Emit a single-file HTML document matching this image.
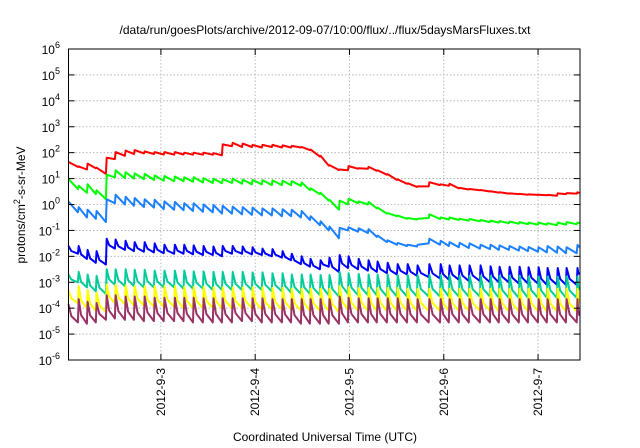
<!DOCTYPE html>
<html><head><meta charset="utf-8"><style>
html,body{margin:0;padding:0;background:#fff;}
svg{display:block;font-family:"Liberation Sans",sans-serif;}
</style></head><body>
<svg id="chart" width="640" height="448" viewBox="0 0 640 448" xmlns="http://www.w3.org/2000/svg">
<rect x="0" y="0" width="640" height="448" fill="#fff"/>
<text x="325" y="34" font-size="12" text-anchor="middle" fill="#000">/data/run/goesPlots/archive/2012-09-07/10:00/flux/../flux/5daysMarsFluxes.txt</text>
<g id="grid"></g>
<g id="series"></g>
<rect x="68.5" y="49" width="511.5" height="311" fill="none" stroke="#000" stroke-width="1"/>
<g id="axes"></g>
<text transform="translate(25,205) rotate(-90)" font-size="12" text-anchor="middle">protons/cm<tspan dy="-5" font-size="9">2</tspan><tspan dy="5">-s-sr-MeV</tspan></text>
<text x="325" y="441" font-size="12" text-anchor="middle">Coordinated Universal Time (UTC)</text>
</svg>
<script>
const xTickDays=[3,4,5,6,7];
const xTickLabels=["2012-9-3","2012-9-4","2012-9-5","2012-9-6","2012-9-7"];
const yTickExps=[-6,-5,-4,-3,-2,-1,0,1,2,3,4,5,6];
const startDay=2.02, endDay=7.44;
const toothDays=[2.12,2.215,2.31,2.417,2.512,2.618,2.714,2.82,2.926,3.03,3.14,3.24,3.34,3.445,3.55,3.647,3.753,3.86,3.965,4.07,4.176,4.283,4.38,4.485,4.58,4.686,4.78,4.888,4.983,5.09,5.195,5.29,5.397,5.503,5.61,5.715,5.84,5.96,6.054,6.16,6.266,6.383,6.489,6.584,6.69,6.796,6.892,6.998,7.093,7.2,7.295,7.41];
// values as log10(flux)
const redStart=1.64, redEnd=0.44;
const redTrough=[1.45,1.35,1.40,1.18,1.75,1.88,1.95,1.97,1.95,1.93,1.92,1.93,1.92,1.92,1.92,1.90,2.25,2.22,2.22,2.2,2.22,2.2,2.2,2.2,2.1,1.85,1.5,1.33,1.32,1.38,1.38,1.3,1.15,0.95,0.8,0.68,0.7,0.75,0.72,0.62,0.58,0.55,0.5,0.46,0.42,0.4,0.38,0.37,0.36,0.34,0.4,0.42];
const redPeak=[1.47,1.58,1.42,1.80,2.02,2.08,2.1,2.05,2.02,2.02,2.02,2.0,2.0,2.0,1.98,2.32,2.38,2.35,2.3,2.3,2.3,2.28,2.26,2.22,2.12,1.88,1.52,1.35,1.48,1.4,1.45,1.32,1.17,0.97,0.82,0.7,0.86,0.78,0.8,0.64,0.6,0.56,0.51,0.47,0.43,0.41,0.39,0.38,0.37,0.43,0.44,0.47];
const greenStart=0.98, greenEnd=-0.72;
const greenTrough=[0.6,0.45,0.4,0.2,1.05,1.02,1.0,0.98,0.95,0.92,0.9,0.9,0.88,0.85,0.83,0.82,0.83,0.8,0.78,0.78,0.75,0.75,0.75,0.72,0.55,0.4,0.15,-0.2,0.0,0.05,0.0,-0.15,-0.35,-0.45,-0.55,-0.58,-0.52,-0.56,-0.58,-0.6,-0.62,-0.65,-0.68,-0.7,-0.72,-0.74,-0.76,-0.78,-0.78,-0.8,-0.78,-0.76];
const greenPeak=[0.72,0.78,0.55,1.15,1.32,1.25,1.2,1.18,1.12,1.1,1.08,1.05,1.05,1.02,1.0,0.98,1.0,0.96,0.95,0.94,0.93,0.92,0.9,0.85,0.62,0.45,0.18,0.15,0.22,0.12,0.1,-0.12,-0.33,-0.43,-0.52,-0.55,-0.38,-0.5,-0.5,-0.55,-0.56,-0.6,-0.62,-0.64,-0.66,-0.68,-0.7,-0.7,-0.72,-0.7,-0.68,-0.7];
const lblueStart=0.11, lblueEnd=-1.65;
const lblueTrough=[-0.3,-0.5,-0.55,-0.68,0.05,0.0,-0.05,-0.1,-0.12,-0.18,-0.2,-0.22,-0.25,-0.28,-0.3,-0.35,-0.35,-0.38,-0.4,-0.42,-0.42,-0.45,-0.45,-0.5,-0.6,-0.8,-1.0,-1.3,-1.0,-1.05,-1.1,-1.25,-1.45,-1.55,-1.6,-1.62,-1.5,-1.55,-1.6,-1.65,-1.68,-1.7,-1.72,-1.75,-1.75,-1.78,-1.8,-1.82,-1.85,-1.86,-1.88,-1.88];
const lbluePeak=[-0.1,-0.2,-0.25,0.2,0.38,0.3,0.25,0.2,0.18,0.12,0.1,0.05,0.05,0.0,-0.02,-0.05,-0.08,-0.1,-0.12,-0.15,-0.15,-0.18,-0.2,-0.25,-0.45,-0.65,-0.85,-0.9,-0.88,-0.92,-0.95,-1.2,-1.38,-1.48,-1.55,-1.55,-1.32,-1.4,-1.45,-1.48,-1.5,-1.55,-1.55,-1.58,-1.6,-1.62,-1.64,-1.65,-1.6,-1.62,-1.65,-1.56];
const dblueStart=-1.6, dblueEnd=-2.7;
const dblueTrough=[-1.9,-2.1,-2.25,-2.32,-1.7,-1.75,-1.8,-1.82,-1.85,-1.88,-1.9,-1.9,-1.92,-1.95,-1.95,-2.0,-1.9,-1.9,-1.92,-1.95,-2.0,-2.05,-2.15,-2.3,-2.4,-2.5,-2.4,-2.6,-2.45,-2.5,-2.55,-2.6,-2.65,-2.7,-2.7,-2.75,-2.8,-2.85,-2.9,-2.9,-2.95,-2.95,-3.0,-3.0,-3.0,-3.05,-3.05,-3.05,-3.1,-3.1,-3.1,-3.1];
const dbluePeak=[-1.6,-1.75,-1.8,-1.32,-1.35,-1.4,-1.45,-1.45,-1.5,-1.55,-1.55,-1.55,-1.58,-1.6,-1.62,-1.6,-1.6,-1.62,-1.65,-1.7,-1.72,-1.8,-1.9,-2.0,-2.1,-2.15,-2.05,-1.95,-2.0,-2.1,-2.15,-2.2,-2.25,-2.3,-2.3,-2.35,-2.3,-2.3,-2.35,-2.35,-2.35,-2.35,-2.38,-2.4,-2.4,-2.4,-2.42,-2.42,-2.45,-2.45,-2.45,-2.45];
const tealStart=-2.7, tealEnd=-3.3;
const tealTrough=[-3.0,-3.2,-3.35,-3.45,-3.1,-3.15,-3.15,-3.2,-3.2,-3.2,-3.2,-3.25,-3.25,-3.25,-3.3,-3.3,-3.3,-3.3,-3.3,-3.3,-3.35,-3.35,-3.4,-3.45,-3.45,-3.5,-3.5,-3.55,-3.45,-3.5,-3.5,-3.5,-3.55,-3.55,-3.55,-3.55,-3.55,-3.55,-3.55,-3.55,-3.55,-3.55,-3.55,-3.6,-3.6,-3.6,-3.6,-3.6,-3.6,-3.6,-3.6,-3.6];
const tealPeak=[-2.6,-2.7,-2.75,-2.5,-2.5,-2.5,-2.52,-2.52,-2.55,-2.55,-2.55,-2.55,-2.58,-2.58,-2.6,-2.6,-2.6,-2.6,-2.62,-2.62,-2.65,-2.65,-2.7,-2.7,-2.7,-2.72,-2.72,-2.6,-2.65,-2.68,-2.7,-2.7,-2.7,-2.72,-2.72,-2.72,-2.72,-2.72,-2.75,-2.75,-2.75,-2.75,-2.75,-2.75,-2.75,-2.75,-2.78,-2.78,-2.78,-2.78,-2.78,-2.78];
const yellowStart=-3.3, yellowEnd=-3.8;
const yellowTrough=[-3.8,-4.0,-4.1,-4.15,-3.8,-3.85,-3.9,-3.9,-3.95,-3.95,-3.95,-4.0,-4.0,-4.0,-4.0,-4.0,-4.0,-4.0,-4.0,-4.05,-4.05,-4.05,-4.05,-4.1,-4.1,-4.1,-4.1,-4.15,-4.05,-4.1,-4.1,-4.1,-4.1,-4.1,-4.1,-4.1,-4.1,-4.1,-4.1,-4.1,-4.1,-4.1,-4.1,-4.12,-4.12,-4.12,-4.12,-4.12,-4.12,-4.12,-4.12,-4.12];
const yellowPeak=[-3.15,-3.3,-3.4,-3.1,-3.1,-3.12,-3.15,-3.15,-3.15,-3.15,-3.15,-3.18,-3.18,-3.18,-3.2,-3.2,-3.2,-3.2,-3.2,-3.2,-3.22,-3.22,-3.25,-3.25,-3.25,-3.25,-3.25,-3.15,-3.2,-3.22,-3.22,-3.22,-3.22,-3.22,-3.25,-3.25,-3.25,-3.25,-3.25,-3.25,-3.25,-3.25,-3.25,-3.25,-3.25,-3.25,-3.25,-3.25,-3.25,-3.25,-3.25,-3.25];
const purpleStart=-3.85, purpleEnd=-4.3;
const purpleTrough=[-4.55,-4.6,-4.55,-4.45,-4.4,-4.45,-4.45,-4.5,-4.5,-4.5,-4.5,-4.5,-4.55,-4.55,-4.55,-4.55,-4.55,-4.5,-4.5,-4.55,-4.55,-4.55,-4.55,-4.6,-4.6,-4.6,-4.6,-4.6,-4.55,-4.55,-4.55,-4.55,-4.55,-4.55,-4.55,-4.55,-4.55,-4.55,-4.55,-4.55,-4.55,-4.55,-4.55,-4.55,-4.55,-4.55,-4.55,-4.55,-4.55,-4.55,-4.55,-4.55];
const purplePeak=[-3.65,-3.75,-3.8,-3.5,-3.5,-3.55,-3.55,-3.55,-3.6,-3.6,-3.6,-3.6,-3.6,-3.62,-3.62,-3.62,-3.62,-3.62,-3.62,-3.62,-3.65,-3.65,-3.65,-3.65,-3.65,-3.65,-3.65,-3.55,-3.6,-3.62,-3.62,-3.62,-3.62,-3.62,-3.65,-3.65,-3.65,-3.65,-3.65,-3.65,-3.65,-3.65,-3.65,-3.65,-3.65,-3.65,-3.65,-3.65,-3.65,-3.65,-3.65,-3.65];

const X0=68.5,X1=580,Y0=49,Y1=360;
const dayMin=2.02,dayMax=7.445;
function xs(d){return X0+(d-dayMin)/(dayMax-dayMin)*(X1-X0);}
function ys(e){return Y1-(e+6)/12*(Y1-Y0);}
const NS="http://www.w3.org/2000/svg";
function mk(tag,parent,attrs){const el=document.createElementNS(NS,tag);for(const k in attrs)el.setAttribute(k,attrs[k]);parent.appendChild(el);return el;}
const grid=document.getElementById('grid'),axes=document.getElementById('axes'),ser=document.getElementById('series');
yTickExps.forEach(e=>{
  const y=ys(e);
  if(e>-6&&e<6){const g=mk('line',grid,{x1:X0,x2:X1,y1:y,y2:y,stroke:'#aaa','stroke-width':0.8,'stroke-dasharray':'1.5,2'});
  
  }
  const t1=mk('line',axes,{x1:X0,x2:X0+6,y1:y,y2:y,stroke:'#000'});
  
  
  const t2=mk('line',axes,{x1:X1-6,x2:X1,y1:y,y2:y,stroke:'#000'});
  
  
  const tx=mk('text',axes,{x:60,y:y+5,'font-size':12,'text-anchor':'end'});
  
  
  tx.textContent='10';
  const sp=mk('tspan',tx,{dy:-6,'font-size':9});sp.textContent=String(e);
});
xTickDays.forEach((d,i)=>{
  const x=xs(d);
  const g=mk('line',grid,{x1:x,x2:x,y1:Y0,y2:Y1,stroke:'#aaa','stroke-width':0.8,'stroke-dasharray':'1.5,2'});
  
  
  const t1=mk('line',axes,{x1:x,x2:x,y1:Y1-6,y2:Y1,stroke:'#000'});
  
  
  const t2=mk('line',axes,{x1:x,x2:x,y1:Y0,y2:Y0+6,stroke:'#000'});
  
  
  const tx=mk('text',axes,{transform:`translate(${x+4},368) rotate(-90)`,'font-size':12,'text-anchor':'end'});
  
  
  tx.textContent=xTickLabels[i];
});
// curve: 0 = linear decay, >0 = convex decay (drop fast then flatten)
function draw(name,color,st,tr,pk,en,curve){
  let pts=[[startDay,st]];
  let prev=[startDay,st];
  function seg(t,v){
    if(curve>0){
      const tm=prev[0]+(t-prev[0])*0.3;
      const vm=prev[1]+(v-prev[1])*(0.3+curve);
      pts.push([tm,vm]);
    }
    pts.push([t,v]);
  }
  for(let i=0;i<toothDays.length;i++){
    seg(toothDays[i],tr[i]);
    pts.push([toothDays[i]+0.008,pk[i]]);
    prev=[toothDays[i]+0.008,pk[i]];
  }
  seg(endDay,en);
  const p=mk('polyline',ser,{points:pts.map(q=>xs(q[0]).toFixed(1)+','+ys(q[1]).toFixed(1)).join(' '),fill:'none',stroke:color,'stroke-width':2,'stroke-linejoin':'round'});
  
  
}
draw('series-red','#ff0000',redStart,redTrough,redPeak,redEnd,0);
draw('series-green','#00ff00',greenStart,greenTrough,greenPeak,greenEnd,0);
draw('series-light-blue','#1a80ff',lblueStart,lblueTrough,lbluePeak,lblueEnd,0);
draw('series-dark-blue','#0000ff',dblueStart,dblueTrough,dbluePeak,dblueEnd,0.35);
draw('series-teal','#00cc99',tealStart,tealTrough,tealPeak,tealEnd,0.35);
draw('series-yellow','#ffff00',yellowStart,yellowTrough,yellowPeak,yellowEnd,0.35);
draw('series-purple','#993366',purpleStart,purpleTrough,purplePeak,purpleEnd,0.35);
</script>
</body></html>
